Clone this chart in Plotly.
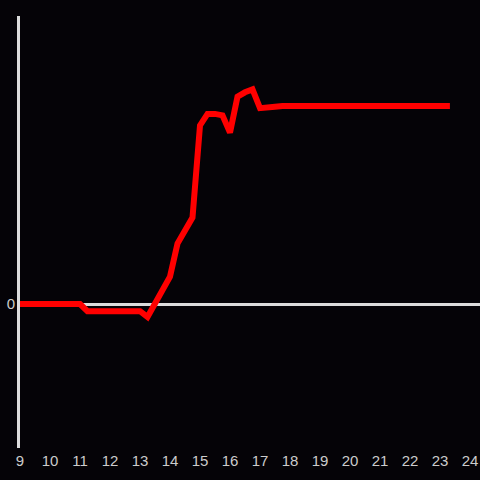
import plotly.graph_objects as go

# hour of day vs. relative change
hours = [9.0, 11.0, 11.25, 13.0, 13.25, 13.5, 13.75, 14.0, 14.25, 14.5, 14.75,
         15.0, 15.25, 15.5, 15.75, 16.0, 16.25, 16.5, 16.75, 17.0, 17.25,
         17.5, 17.75, 23.33]
values = [0.0, 0.0, -0.05, -0.05, -0.09, 0.01, 0.09, 0.19, 0.42, 0.51, 0.60,
          1.24, 1.32, 1.32, 1.31, 1.19, 1.44, 1.47, 1.49, 1.36, 1.36,
          1.37, 1.375, 1.375]
x_ticks = list(range(9, 25))

bg = "#050307"
axis_col = "#dcdcdc"

fig = go.Figure()
fig.add_trace(
    go.Scatter(
        x=hours,
        y=values,
        mode="lines",
        line=dict(color="#ff0000", width=6),
        showlegend=False,
        hoverinfo="skip",
    )
)

fig.update_layout(
    width=480,
    height=480,
    paper_bgcolor=bg,
    plot_bgcolor=bg,
    margin=dict(l=20, r=0, t=16, b=32),
    font=dict(family="Liberation Sans, Arial, sans-serif", size=15, color="#cccccc"),
    xaxis=dict(
        range=[9, 24.333],
        tickvals=x_ticks,
        ticktext=[str(t) for t in x_ticks],
        showgrid=False,
        zeroline=False,
        showline=False,
        ticks="",
        ticklabelstandoff=2,
    ),
    yaxis=dict(
        range=[-1, 2],
        tickvals=[0],
        ticktext=["0"],
        showgrid=False,
        zeroline=True,
        zerolinecolor=axis_col,
        zerolinewidth=3,
        showline=True,
        linecolor=axis_col,
        linewidth=3,
        ticks="",
        ticklabelstandoff=-1,
    ),
)

# drop the default page margin so the figure fills the window
fig.write_html(
    "out.html",
    config={"displayModeBar": False},
    post_script="document.body.style.margin='0';document.body.style.background='%s';" % bg,
)
